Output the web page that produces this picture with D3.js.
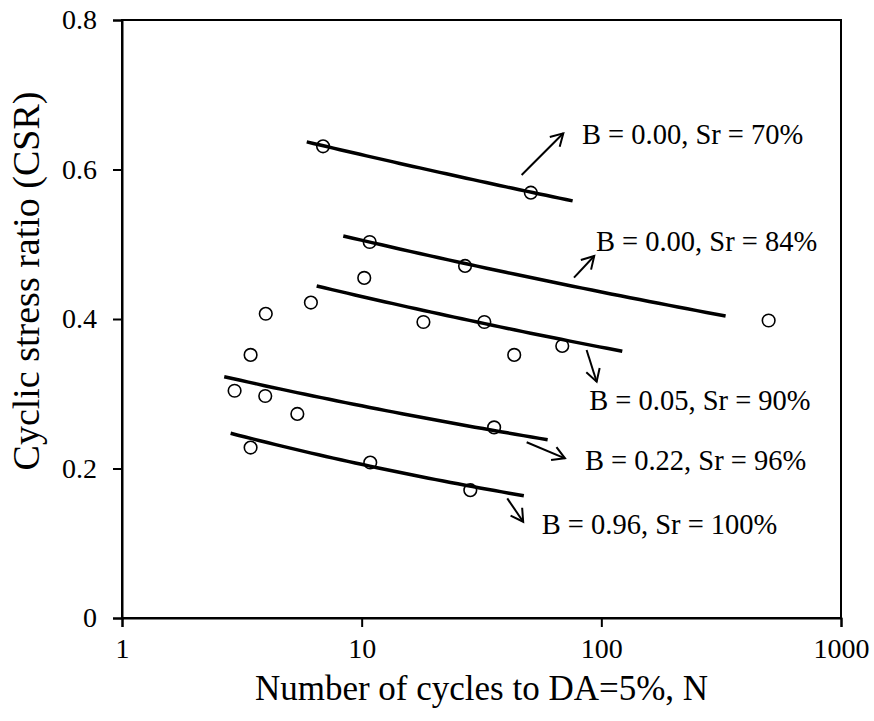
<!DOCTYPE html>
<html>
<head>
<meta charset="utf-8">
<script src="https://cdn.jsdelivr.net/npm/d3@7"></script>
<style>
  html, body { margin: 0; padding: 0; background: #fff; }
  svg { display: block; }
  svg text { font-family: "Liberation Serif", "Times New Roman", "DejaVu Serif", serif !important; fill: #000; }
</style>
</head>
<body>
<svg id="chart" width="874" height="721"></svg>
<script>
// Test results: number of cycles to DA=5% and cyclic stress ratio
const pointN   = [6.9, 50.8, 10.8, 27.0, 10.25, 6.14, 3.98, 18.1, 32.5, 68.7, 43.3, 3.44, 2.95, 3.96, 5.39, 35.7, 3.44, 10.86, 28.4, 499];
const pointCSR = [0.631, 0.569, 0.503, 0.471, 0.455, 0.422, 0.407, 0.396, 0.396, 0.364, 0.352, 0.352, 0.304, 0.297, 0.273, 0.255, 0.228, 0.208, 0.171, 0.398];

// Power-law trend lines CSR = a * N^b, one per saturation condition
const trendLabels = ["B = 0.00, Sr = 70%", "B = 0.00, Sr = 84%", "B = 0.05, Sr = 90%", "B = 0.22, Sr = 96%", "B = 0.96, Sr = 100%"];
const trendA    = [0.6983, 0.5856, 0.5107, 0.3552, 0.2879];
const trendB    = [-0.0518, -0.0640, -0.0746, -0.0974, -0.1464];
const trendFrom = [5.9, 8.38, 6.49, 2.67, 2.84];
const trendTo   = [75.9, 330, 122.3, 59.7, 47.5];

// Axis ticks
const xTicks = [1, 10, 100, 1000];
const yTicks = [0, 0.2, 0.4, 0.6, 0.8];

// Annotation layout (in data units): arrow tail, arrow head, label anchor
const noteArrowFrom = [[46.5, 0.5926], [76.9, 0.4553], [86.8, 0.3585], [48.8, 0.2351], [40.5, 0.1601]];
const noteArrowTo   = [[69.4, 0.6484], [93.4, 0.4843], [95.6, 0.3161], [70.5, 0.2136], [47.2, 0.1288]];
const noteText      = [[83.0, 0.634], [94.9, 0.4914], [89.0, 0.2783], [85.4, 0.198], [56.4, 0.1124]];

const svg = d3.select("#chart");
const margin = { left: 122, top: 20, right: 33, bottom: 103 };
const W = 874, H = 721;
const x = d3.scaleLog().domain([1, 1000]).range([margin.left, W - margin.right]);
const y = d3.scaleLinear().domain([0, 0.8]).range([H - margin.bottom, margin.top]);

const tickFont = 28;

// Plot frame
svg.append("rect")
  .attr("x", x(1)).attr("y", y(0.8))
  .attr("width", x(1000) - x(1)).attr("height", y(0) - y(0.8))
  .attr("fill", "none").attr("stroke", "#000").attr("stroke-width", 2);

// Axes
const xAxis = d3.axisBottom(x).tickValues(xTicks).tickFormat(d3.format("d")).tickSize(9).tickPadding(11);
const gx = svg.append("g").attr("transform", `translate(0,${y(0)})`).call(xAxis);
gx.select(".domain").attr("stroke-width", 2);
gx.selectAll(".tick line").attr("stroke-width", 2);
gx.selectAll(".tick text").attr("font-size", tickFont);

const yAxis = d3.axisLeft(y).tickValues(yTicks).tickFormat(d => d === 0 ? "0" : d3.format(".1f")(d)).tickSize(9).tickPadding(16);
const gy = svg.append("g").attr("transform", `translate(${x(1)},0)`).call(yAxis);
gy.select(".domain").attr("stroke-width", 2);
gy.selectAll(".tick line").attr("stroke-width", 2);
gy.selectAll(".tick text").attr("font-size", tickFont);

// Axis titles
svg.append("text")
  .attr("x", (x(1) + x(1000)) / 2).attr("y", 700)
  .attr("text-anchor", "middle").attr("font-size", 35)
  .text("Number of cycles to DA=5%, N");
svg.append("text")
  .attr("transform", `translate(39,281) rotate(-90)`)
  .attr("text-anchor", "middle").attr("font-size", 38)
  .text("Cyclic stress ratio (CSR)");

// Trend lines
const line = d3.line().x(d => x(d[0])).y(d => y(d[1]));
trendA.forEach((a, i) => {
  const lo = Math.log10(trendFrom[i]), hi = Math.log10(trendTo[i]);
  const pts = d3.range(0, 41).map(k => {
    const n = Math.pow(10, lo + (hi - lo) * k / 40);
    return [n, a * Math.pow(n, trendB[i])];
  });
  svg.append("path").datum(pts).attr("d", line)
    .attr("fill", "none").attr("stroke", "#000").attr("stroke-width", 3.5);
});

// Data points
svg.append("g").selectAll("circle").data(pointN).join("circle")
  .attr("cx", d => x(d)).attr("cy", (d, i) => y(pointCSR[i]))
  .attr("r", 6.3).attr("fill", "none").attr("stroke", "#000").attr("stroke-width", 1.6);

// Annotations: open-headed arrows and labels
noteArrowFrom.forEach((from, i) => {
  const to = noteArrowTo[i];
  const x0 = x(from[0]), y0 = y(from[1]), x1 = x(to[0]), y1 = y(to[1]);
  const ang = Math.atan2(y1 - y0, x1 - x0);
  const len = 14, spread = Math.PI / 6;
  const g = svg.append("g").attr("stroke", "#000").attr("stroke-width", 2).attr("fill", "none");
  g.append("line").attr("x1", x0).attr("y1", y0).attr("x2", x1).attr("y2", y1);
  g.append("polyline").attr("points", [
    [x1 - len * Math.cos(ang - spread), y1 - len * Math.sin(ang - spread)],
    [x1, y1],
    [x1 - len * Math.cos(ang + spread), y1 - len * Math.sin(ang + spread)]
  ].map(p => p.join(",")).join(" "));
  svg.append("text")
    .attr("x", x(noteText[i][0])).attr("y", y(noteText[i][1]))
    .attr("font-size", 28.5)
    .text(trendLabels[i]);
});
</script>
</body>
</html>
